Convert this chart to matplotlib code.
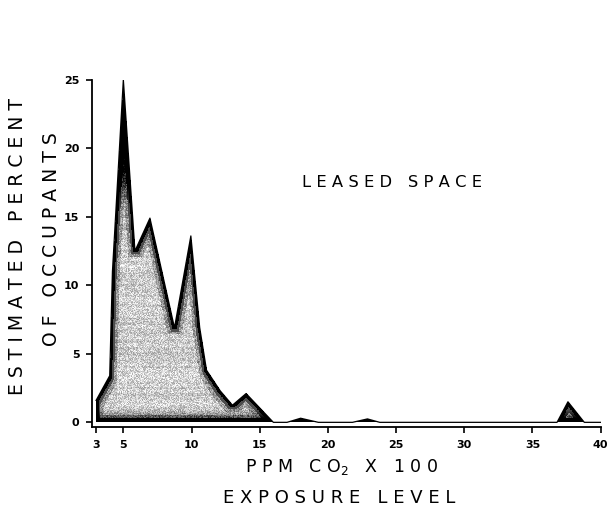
import numpy as np
import matplotlib

matplotlib.use("Agg")
import matplotlib.pyplot as plt
from numpy.lib.stride_tricks import sliding_window_view

# exposure level (ppm CO2 x 100) vs estimated percent of occupants, leased space
exposure = [3.0, 4.0, 4.2, 5.0, 5.85, 6.95, 8.75, 9.95, 10.6, 11.1, 12.1, 13.0,
            14.0, 16.0, 17.0, 18.0, 19.3, 21.8, 22.9, 23.8, 36.8, 37.6, 38.8, 40.0]
percent = [1.6, 3.4, 11.0, 25.0, 12.5, 14.9, 6.9, 13.6, 6.9, 3.8, 2.3, 1.25,
           2.1, 0.0, 0.0, 0.3, 0.0, 0.0, 0.25, 0.0, 0.0, 1.5, 0.0, 0.0]

x_ticks = [3, 5, 10, 15, 20, 25, 30, 35, 40]
y_ticks = [0, 5, 10, 15, 20, 25]

plt.rcParams.update({"font.family": "DejaVu Sans"})

fig = plt.figure(figsize=(6.14, 5.14), dpi=100)
ax = fig.add_axes([0.1498, 0.169, 0.8285, 0.676])
ax.set_xlim(2.7, 40)
ax.set_ylim(-0.35, 25)

# shaded body: black rim, speckled light grey core (erosion of the filled curve)
gx = np.linspace(2.7, 40, 1400)
gy = np.linspace(-0.35, 25, 700)
X, Y = np.meshgrid(gx, gy)
f = np.interp(gx, exposure, percent, left=0, right=0)
dx = gx[1] - gx[0]
shade = np.zeros_like(X)
inside = (Y <= f[None, :]) & (Y >= 0)
for d, val in [(0.15, 0.3), (0.3, 0.6), (0.5, 0.8)]:
    w = max(1, int(round(d / dx)))
    fp = np.pad(f, w, mode="edge")
    fmin = sliding_window_view(fp, 2 * w + 1).min(axis=1)
    core = (Y + d <= fmin[None, :]) & (Y - d >= 0)
    shade[core] = val
tex = np.abs(np.modf(np.sin(X * 12.9898 + Y * 78.233) * 43758.5453)[0])
streak = np.abs(np.modf(np.sin(np.round(Y * 6) * 3.7) * 917.3)[0])
shade = np.where(shade > 0.5, shade + 0.35 * (tex - 0.5) + 0.1 * (streak - 0.5), shade)
shade = shade - 0.75 * np.clip((Y - 15.5) / 4.0, 0, 1) * (shade > 0)
shade = shade - 0.3 * np.clip((0.9 - Y) / 0.6, 0, 1) * (shade > 0)
shade = np.clip(shade, 0, 1)
rgba = np.zeros(X.shape + (4,))
rgba[..., 0] = shade
rgba[..., 1] = shade
rgba[..., 2] = shade
rgba[..., 3] = inside.astype(float)
ax.imshow(rgba, extent=(gx[0], gx[-1], gy[0], gy[-1]), origin="lower",
          aspect="auto", interpolation="nearest", zorder=1)
ax.plot(exposure, percent, color="black", linewidth=0.9, zorder=2)

for side in ["top", "right"]:
    ax.spines[side].set_visible(False)
for side in ["left", "bottom"]:
    ax.spines[side].set_linewidth(1.3)
ax.set_xticks(x_ticks)
ax.set_yticks(y_ticks)
ax.set_xticklabels([str(t) for t in x_ticks], fontsize=8, fontweight="bold")
ax.set_yticklabels([str(t) for t in y_ticks], fontsize=8, fontweight="bold")
ax.tick_params(direction="out", length=4, width=1.2, pad=5)

fig.text(0.638, 0.644, "L E A S E D   S P A C E", ha="center", va="center", fontsize=11.8)
fig.text(0.557, 0.091, r"P P M   C O$_{2}$   X   1 0 0", ha="center", va="center", fontsize=12.5)
fig.text(0.552, 0.031, "E X P O S U R E   L E V E L", ha="center", va="center", fontsize=13)
fig.text(0.028, 0.52, "E S T I M A T E D   P E R C E N T", rotation=90,
         ha="center", va="center", fontsize=13.5)
fig.text(0.084, 0.535, "O F   O C C U P A N T S", rotation=90,
         ha="center", va="center", fontsize=13.5)

fig.savefig("out.png", dpi=100)
